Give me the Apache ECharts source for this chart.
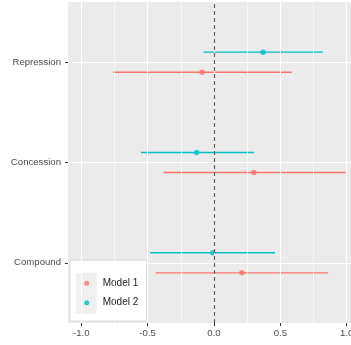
<!DOCTYPE html>
<html>
<head>
<meta charset="utf-8">
<script src="https://cdn.jsdelivr.net/npm/echarts@6/dist/echarts.min.js"></script>
<style>
  html, body { margin: 0; padding: 0; background: #ffffff; }
  #chart { width: 351px; height: 345px; }
</style>
</head>
<body>
<div id="chart"></div>
<script>
// Outcome categories, bottom to top (placed at y = 1, 2, 3)
const categories = ['Compound', 'Concession', 'Repression'];

// Model 1: point estimate with lower / upper interval bounds
const model1Est = [0.21, 0.30, -0.09];
const model1Lo  = [-0.44, -0.38, -0.76];
const model1Hi  = [0.86, 0.99, 0.585];

// Model 2: point estimate with lower / upper interval bounds
const model2Est = [-0.01, -0.13, 0.37];
const model2Lo  = [-0.48, -0.55, -0.08];
const model2Hi  = [0.46, 0.30, 0.82];

// Axis ticks
const xTicks = [-1.0, -0.5, 0.0, 0.5, 1.0];
const xMinorTicks = [-0.75, -0.25, 0.25, 0.75];
const yTicks = [1, 2, 3];

const RED = '#F8766D';
const TEAL = '#00BFC4';
const DODGE = 0.1;
const FONT = 'Liberation Sans, Arial, sans-serif';

function pointData(est, shift) {
  return est.map((v, i) => [v, yTicks[i] + shift]);
}
function barData(lo, hi, shift) {
  return lo.map((v, i) => [v, hi[i], yTicks[i] + shift]);
}
function renderBar(params, api) {
  const y = api.value(2);
  const a = api.coord([api.value(0), y]);
  const b = api.coord([api.value(1), y]);
  return {
    type: 'line',
    shape: { x1: a[0], y1: a[1], x2: b[0], y2: b[1] },
    style: { stroke: api.visual('color'), lineWidth: 1.4 }
  };
}

const chart = echarts.init(document.getElementById('chart'), null, { renderer: 'canvas' });

chart.setOption({
  animation: false,
  grid: {
    left: 68, top: 2, width: 292, height: 321,
    outerBoundsMode: 'none', containLabel: false,
    show: true, backgroundColor: '#EBEBEB', borderWidth: 0
  },
  xAxis: {
    type: 'value', min: -1.1, max: 1.1,
    axisLine: { show: true, onZero: false, lineStyle: { color: 'rgba(0,0,0,0)', width: 0 } },
    axisTick: { show: true, inside: false, customValues: xTicks, length: 3, lineStyle: { color: '#333333', width: 1 } },
    axisLabel: {
      customValues: xTicks, margin: 5, color: '#4D4D4D', fontSize: 9.6, fontFamily: FONT,
      formatter: v => v.toFixed(1)
    },
    splitLine: { show: false }
  },
  yAxis: {
    type: 'value', min: 0.4, max: 3.6,
    axisLine: { show: true, onZero: false, lineStyle: { color: 'rgba(0,0,0,0)', width: 0 } },
    axisTick: { show: true, inside: false, customValues: yTicks, length: 3, lineStyle: { color: '#333333', width: 1 } },
    axisLabel: {
      customValues: yTicks, margin: 7, color: '#4D4D4D', fontSize: 9.6, fontFamily: FONT,
      formatter: v => categories[Math.round(v) - 1] || ''
    },
    splitLine: { show: false }
  },
  legend: {
    orient: 'vertical', left: 84.2, top: 277.3, padding: 0,
    itemWidth: 5, itemHeight: 5, itemGap: 7.4,
    z: 4,
    textStyle: { fontSize: 10, lineHeight: 12, color: '#1A1A1A', fontFamily: FONT, padding: [0, 0, 0, 8.5] },
    data: [
      { name: 'Model 1', icon: 'circle', itemStyle: { color: RED } },
      { name: 'Model 2', icon: 'circle', itemStyle: { color: TEAL } }
    ]
  },
  graphic: [
    { type: 'rect', z: 3, shape: { x: 70, y: 260, width: 76.5, height: 61 },
      style: { fill: '#FFFFFF', stroke: '#D6D6D6', lineWidth: 1 } },
    { type: 'rect', z: 3, shape: { x: 76, y: 272.7, width: 20.7, height: 41.3 },
      style: { fill: '#F0F0F0' } }
  ],
  series: [
    {
      // panel grid lines
      type: 'line', data: [], silent: true, z: 1,
      markLine: {
        silent: true, symbol: 'none', label: { show: false }, animation: false,
        data: [
          ...xMinorTicks.map(v => ({ xAxis: v, lineStyle: { color: '#FFFFFF', width: 0.6, type: 'solid' } })),
          ...xTicks.map(v => ({ xAxis: v, lineStyle: { color: '#FFFFFF', width: 1.1, type: 'solid' } })),
          ...yTicks.map(v => ({ yAxis: v, lineStyle: { color: '#FFFFFF', width: 1.1, type: 'solid' } }))
        ]
      }
    },
    {
      name: 'Model 1', type: 'scatter', z: 3, symbol: 'circle', symbolSize: 5.5,
      itemStyle: { color: RED }, data: pointData(model1Est, -DODGE)
    },
    {
      name: 'Model 2', type: 'scatter', z: 3, symbol: 'circle', symbolSize: 5.5,
      itemStyle: { color: TEAL }, data: pointData(model2Est, DODGE)
    },
    {
      name: 'Model 1', type: 'custom', z: 2, renderItem: renderBar,
      itemStyle: { color: RED }, encode: { x: [0, 1], y: 2 },
      data: barData(model1Lo, model1Hi, -DODGE)
    },
    {
      name: 'Model 2', type: 'custom', z: 2, renderItem: renderBar,
      itemStyle: { color: TEAL }, encode: { x: [0, 1], y: 2 },
      data: barData(model2Lo, model2Hi, DODGE)
    },
    {
      // reference line at zero
      type: 'line', data: [], silent: true, z: 4,
      markLine: {
        silent: true, symbol: 'none', label: { show: false }, animation: false,
        data: [{ xAxis: 0, lineStyle: { color: '#5E5E5E', width: 1.2, type: [4, 3] } }]
      }
    }
  ]
});
</script>
</body>
</html>
